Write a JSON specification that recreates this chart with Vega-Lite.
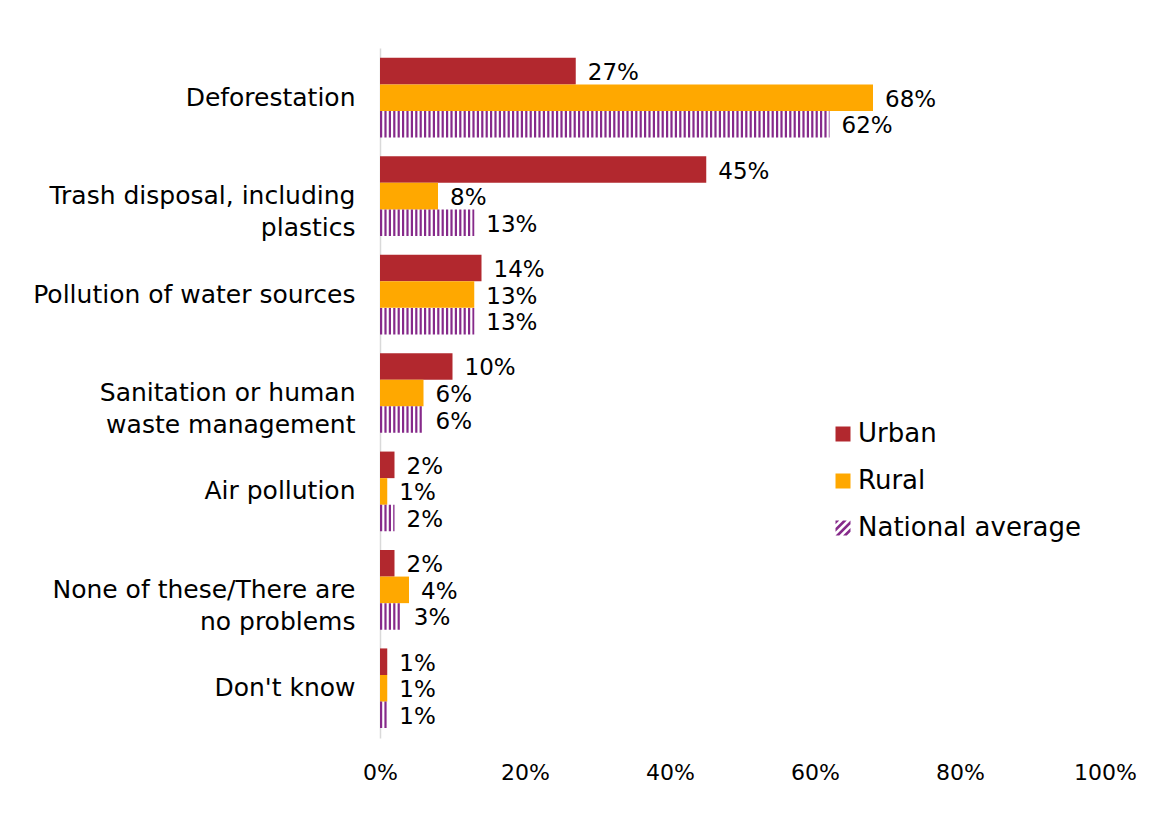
{
  "$schema": "https://vega.github.io/schema/vega-lite/v6.json",
  "autosize": {"type": "none"},
  "width": 725,
  "height": 690,
  "padding": {"left": 380, "top": 48, "right": 61, "bottom": 87},
  "background": "white",
  "config": {
    "view": {"stroke": null},
    "font": "DejaVu Sans",
    "axis": {"labelFont": "DejaVu Sans", "labelColor": "#000000"}
  },
  "data": {
    "values": [
      {"category": "Deforestation", "series": "Urban", "value": 27, "zero": 0},
      {"category": "Deforestation", "series": "Rural", "value": 68, "zero": 0},
      {"category": "Deforestation", "series": "National average", "value": 62, "zero": 0},
      {"category": "Trash disposal, including|plastics", "series": "Urban", "value": 45, "zero": 0},
      {"category": "Trash disposal, including|plastics", "series": "Rural", "value": 8, "zero": 0},
      {"category": "Trash disposal, including|plastics", "series": "National average", "value": 13, "zero": 0},
      {"category": "Pollution of water sources", "series": "Urban", "value": 14, "zero": 0},
      {"category": "Pollution of water sources", "series": "Rural", "value": 13, "zero": 0},
      {"category": "Pollution of water sources", "series": "National average", "value": 13, "zero": 0},
      {"category": "Sanitation or human|waste management", "series": "Urban", "value": 10, "zero": 0},
      {"category": "Sanitation or human|waste management", "series": "Rural", "value": 6, "zero": 0},
      {"category": "Sanitation or human|waste management", "series": "National average", "value": 6, "zero": 0},
      {"category": "Air pollution", "series": "Urban", "value": 2, "zero": 0},
      {"category": "Air pollution", "series": "Rural", "value": 1, "zero": 0},
      {"category": "Air pollution", "series": "National average", "value": 2, "zero": 0},
      {"category": "None of these/There are|no problems", "series": "Urban", "value": 2, "zero": 0},
      {"category": "None of these/There are|no problems", "series": "Rural", "value": 4, "zero": 0},
      {"category": "None of these/There are|no problems", "series": "National average", "value": 3, "zero": 0},
      {"category": "Don't know", "series": "Urban", "value": 1, "zero": 0},
      {"category": "Don't know", "series": "Rural", "value": 1, "zero": 0},
      {"category": "Don't know", "series": "National average", "value": 1, "zero": 0}
    ]
  },
  "encoding": {
    "y": {
      "field": "category",
      "type": "nominal",
      "sort": null,
      "scale": {"paddingInner": 0.19, "paddingOuter": 0.1},
      "axis": {
        "title": null,
        "ticks": false,
        "labelPadding": 25,
        "labelFontSize": 25,
        "labelLimit": 600,
        "labelExpr": "datum.value === 'Trash disposal, including|plastics' ? ['Trash disposal, including', 'plastics\u00a0\u00a0\u00a0\u00a0\u00a0\u00a0\u00a0\u00a0\u00a0\u00a0\u00a0\u00a0\u00a0'] : datum.value === 'None of these/There are|no problems' ? ['None of these/There are', 'no problems\u00a0\u00a0\u00a0\u00a0\u00a0\u00a0\u00a0\u00a0\u00a0'] : split(datum.value, '|')",
        "labelLineHeight": 32,
        "domainColor": "#d9d9d9",
        "domainWidth": 1.5,
        "grid": false
      }
    },
    "yOffset": {
      "field": "series",
      "type": "nominal",
      "sort": ["Urban", "Rural", "National average"],
      "scale": {"domain": ["Urban", "Rural", "National average"], "paddingInner": 0, "paddingOuter": 0}
    }
  },
  "layer": [
    {
      "transform": [{"filter": "datum.series !== 'National average'"}],
      "mark": {"type": "bar"},
      "encoding": {
        "x": {
          "field": "value",
          "type": "quantitative",
          "scale": {"domain": [0, 100]},
          "axis": {
            "title": null,
            "ticks": false,
            "domain": false,
            "grid": false,
            "labelFlush": false,
            "labelFontSize": 22,
            "values": [0, 20, 40, 60, 80, 100],
            "labelExpr": "datum.value + '%'",
            "labelPadding": 24
          }
        },
        "color": {
          "field": "series",
          "type": "nominal",
          "scale": {
            "domain": ["Urban", "Rural", "National average"],
            "range": ["#B2282E", "#FFA800", "#862A8A"]
          },
          "legend": {
            "title": null,
            "orient": "none",
            "legendX": 450,
            "legendY": 373,
            "symbolType": "square",
            "symbolSize": 225,
            "symbolStrokeWidth": 0,
            "labelFont": "DejaVu Sans",
            "labelFontSize": 26,
            "labelLimit": 400,
            "labelColor": "#000000",
            "labelOffset": 2,
            "rowPadding": 21
          }
        }
      }
    },
    {
      "transform": [{"filter": "false"}],
      "mark": {"type": "point", "filled": true, "opacity": 1},
      "encoding": {
        "x": {"field": "value", "type": "quantitative"},
        "color": {"field": "series", "type": "nominal"},
        "shape": {
          "field": "series",
          "type": "nominal",
          "scale": {
            "domain": ["Urban", "Rural", "National average"],
            "range": ["square", "square", "M-1,-1L-0.5,-1L-1,-0.5ZM0,-1L0.5,-1L-1,0.5L-1,0ZM1,-1L1,-0.5L-0.5,1L-1,1ZM1,0L1,0.5L0.5,1L0,1Z"]
          },
          "legend": {
            "title": null,
            "orient": "none",
            "legendX": 450,
            "legendY": 373,
            "symbolSize": 225,
            "symbolStrokeWidth": 0,
            "labelFont": "DejaVu Sans",
            "labelFontSize": 26,
            "labelLimit": 400,
            "labelColor": "#000000",
            "labelOffset": 2,
            "rowPadding": 21
          }
        }
      }
    },
    {
      "transform": [{"filter": "datum.series === 'National average'"}],
      "mark": {"type": "rule", "strokeWidth": 26.5, "strokeDash": [2.2, 2.2], "strokeCap": "butt", "color": "#862A8A"},
      "encoding": {
        "x": {"field": "zero", "type": "quantitative"},
        "x2": {"field": "value"}
      }
    },
    {
      "mark": {"type": "text", "align": "left", "baseline": "middle", "dx": 12, "dy": 2, "fontSize": 23, "font": "DejaVu Sans", "color": "#000000"},
      "encoding": {
        "x": {"field": "value", "type": "quantitative"},
        "text": {"field": "label"}
      },
      "transform": [{"calculate": "datum.value + '%'", "as": "label"}]
    }
  ]
}
